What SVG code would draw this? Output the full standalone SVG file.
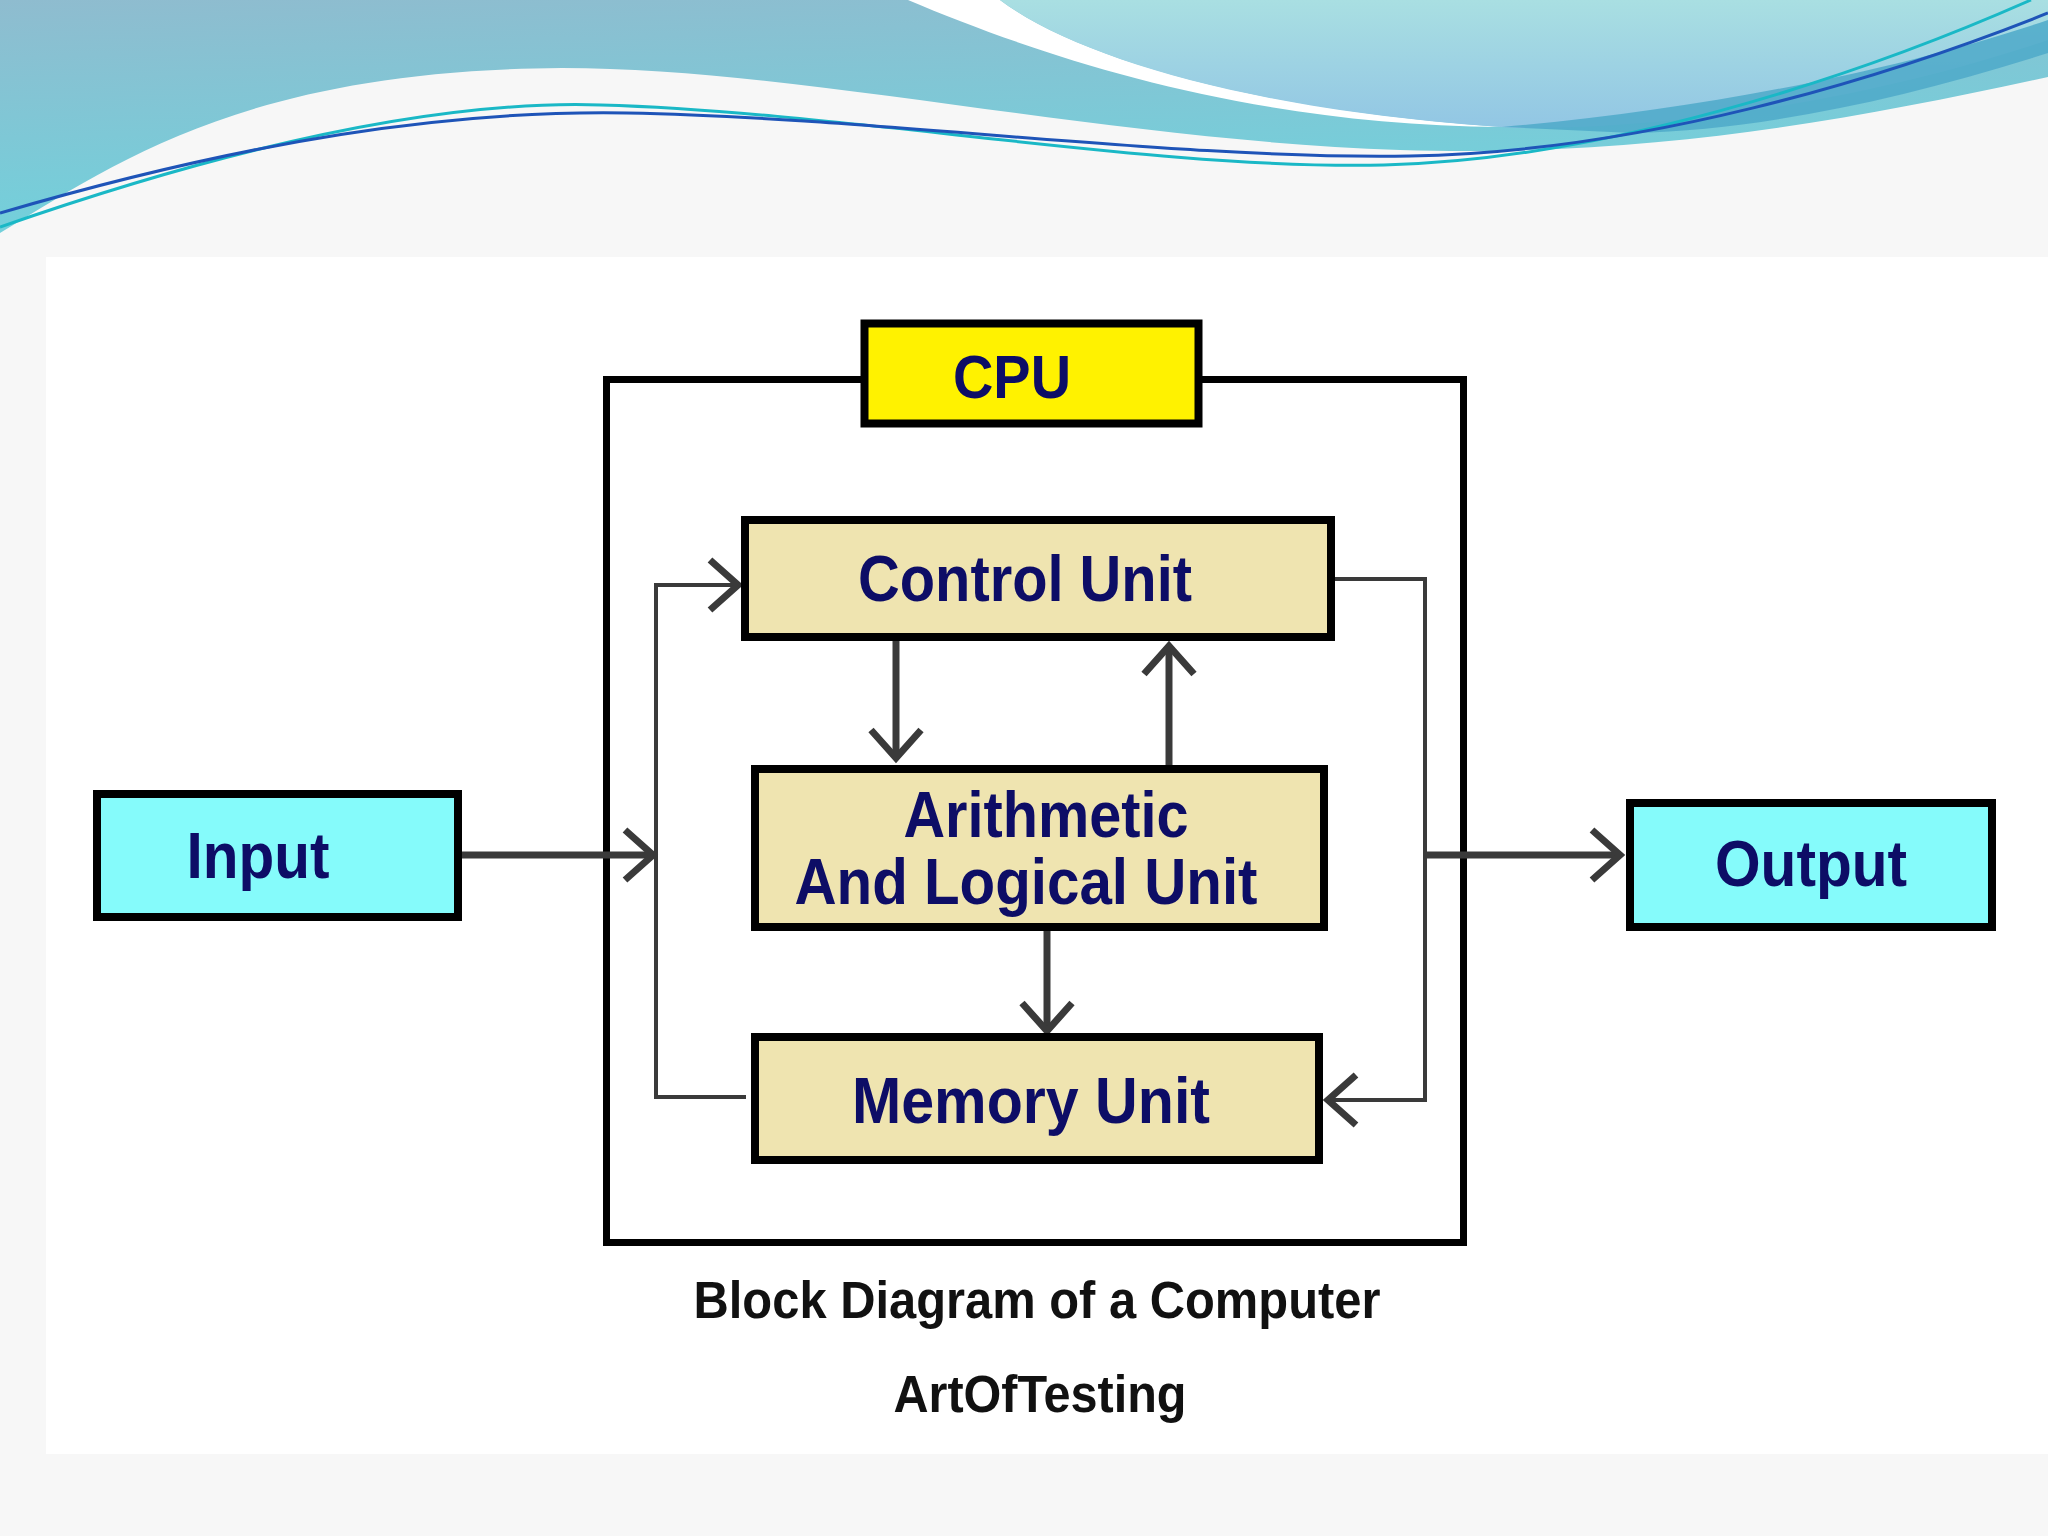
<svg xmlns="http://www.w3.org/2000/svg" width="2048" height="1536" viewBox="0 0 2048 1536">
<defs>
<linearGradient id="teal" x1="0" y1="0" x2="0.3" y2="1">
<stop offset="0" stop-color="#8fbccf"/>
<stop offset="1" stop-color="#70d2dc"/>
</linearGradient>
<linearGradient id="light" x1="0" y1="0" x2="0" y2="1">
<stop offset="0" stop-color="#a9dfe2"/>
<stop offset="1" stop-color="#92c6e4"/>
</linearGradient>
<marker id="arr" viewBox="-38 -32 46 64" markerWidth="46" markerHeight="64" refX="0" refY="0" orient="auto" markerUnits="userSpaceOnUse">
<path d="M-28,-25 L0,0 L-28,25" fill="none" stroke="#3a3a3a" stroke-width="7"/>
</marker>
<style>
.node{stroke:#000;stroke-width:8}
.tan{fill:#efe4b0}
.cyan{fill:#85fbfb}
.lbl{font-family:"Liberation Sans",Arial,sans-serif;font-weight:bold;fill:#0d0d66;text-anchor:middle}
.cap{font-family:"Liberation Sans",Arial,sans-serif;font-weight:bold;fill:#111;text-anchor:middle}
.con{fill:none;stroke:#3a3a3a;stroke-width:7}
.thin{fill:none;stroke:#3a3a3a;stroke-width:4}
</style>
</defs>
<rect x="0" y="0" width="2048" height="1536" fill="#f7f7f7"/>
<rect x="46" y="257" width="2002" height="1197" fill="#ffffff"/>
<g id="header">
<path d="M0,0 H2048 V77 C1850,120 1650,158 1400,150 C1100,140 800,68 562,68 C250,70 120,160 0,233 Z" fill="url(#teal)"/>
<path d="M908,0 C1050,60 1250,125 1502,127 C1260,110 1080,60 1000,0 Z" fill="#ffffff"/>
<path d="M1000,0 C1080,60 1260,112 1515,128 C1700,130 1900,90 2048,40 V0 Z" fill="url(#light)"/>
<path d="M1502,127 C1700,110 1900,70 2048,20 V53 C1900,100 1760,130 1633,133 Z" fill="#4ea9c9" opacity="0.85"/>
<path d="M0,227 C250,140 450,100 601,105 C850,112 1150,170 1384,165 C1600,160 1850,80 2031,0" fill="none" stroke="#1ab8c6" stroke-width="3"/>
<path d="M0,213 C250,140 450,110 627,113 C880,118 1180,160 1410,156 C1640,152 1880,80 2048,13" fill="none" stroke="#1e54b8" stroke-width="3"/>
</g>
<g id="cpu-box">
<rect x="606.5" y="379.5" width="857" height="863" fill="none" stroke="#000" stroke-width="7"/>
</g>
<g id="connectors">
<path class="con" d="M462,855 H653" marker-end="url(#arr)"/>
<path class="thin" d="M746,1097 H656 V585 H738" marker-end="url(#arr)"/>
<path class="con" d="M896,641 V758" marker-end="url(#arr)"/>
<path class="con" d="M1169,765 V646" marker-end="url(#arr)"/>
<path class="con" d="M1047,931 V1031" marker-end="url(#arr)"/>
<path class="thin" d="M1335,579 H1425 V1100 H1328" marker-end="url(#arr)"/>
<path class="con" d="M1425,855 H1620" marker-end="url(#arr)"/>
</g>
<g id="cpu-label">
<rect x="864.5" y="323.5" width="334" height="100" fill="#fff200" class="node"/>
<text class="lbl" x="1012" y="398" font-size="62" textLength="118" lengthAdjust="spacingAndGlyphs" fill="#0d0d33">CPU</text>
</g>
<g id="control-unit">
<rect class="node tan" x="745" y="520" width="586" height="117"/>
<text class="lbl" x="1025" y="601" font-size="64" textLength="334" lengthAdjust="spacingAndGlyphs">Control Unit</text>
</g>
<g id="alu">
<rect class="node tan" x="755" y="769" width="569" height="158"/>
<text class="lbl" x="1046" y="837" font-size="64" textLength="285" lengthAdjust="spacingAndGlyphs">Arithmetic</text>
<text class="lbl" x="1026" y="904" font-size="64" textLength="463" lengthAdjust="spacingAndGlyphs">And Logical Unit</text>
</g>
<g id="memory-unit">
<rect class="node tan" x="755" y="1037" width="564" height="123"/>
<text class="lbl" x="1031" y="1123" font-size="64" textLength="358" lengthAdjust="spacingAndGlyphs">Memory Unit</text>
</g>
<g id="input">
<rect class="node cyan" x="97" y="794" width="361" height="123"/>
<text class="lbl" x="258" y="878" font-size="64" textLength="143" lengthAdjust="spacingAndGlyphs">Input</text>
</g>
<g id="output">
<rect class="node cyan" x="1630" y="803" width="362" height="124"/>
<text class="lbl" x="1811" y="886" font-size="64" textLength="192" lengthAdjust="spacingAndGlyphs">Output</text>
</g>
<g id="captions">
<text class="cap" x="1037" y="1318" font-size="51" textLength="687" lengthAdjust="spacingAndGlyphs">Block Diagram of a Computer</text>
<text class="cap" x="1040" y="1412" font-size="51" textLength="293" lengthAdjust="spacingAndGlyphs">ArtOfTesting</text>
</g>
</svg>
